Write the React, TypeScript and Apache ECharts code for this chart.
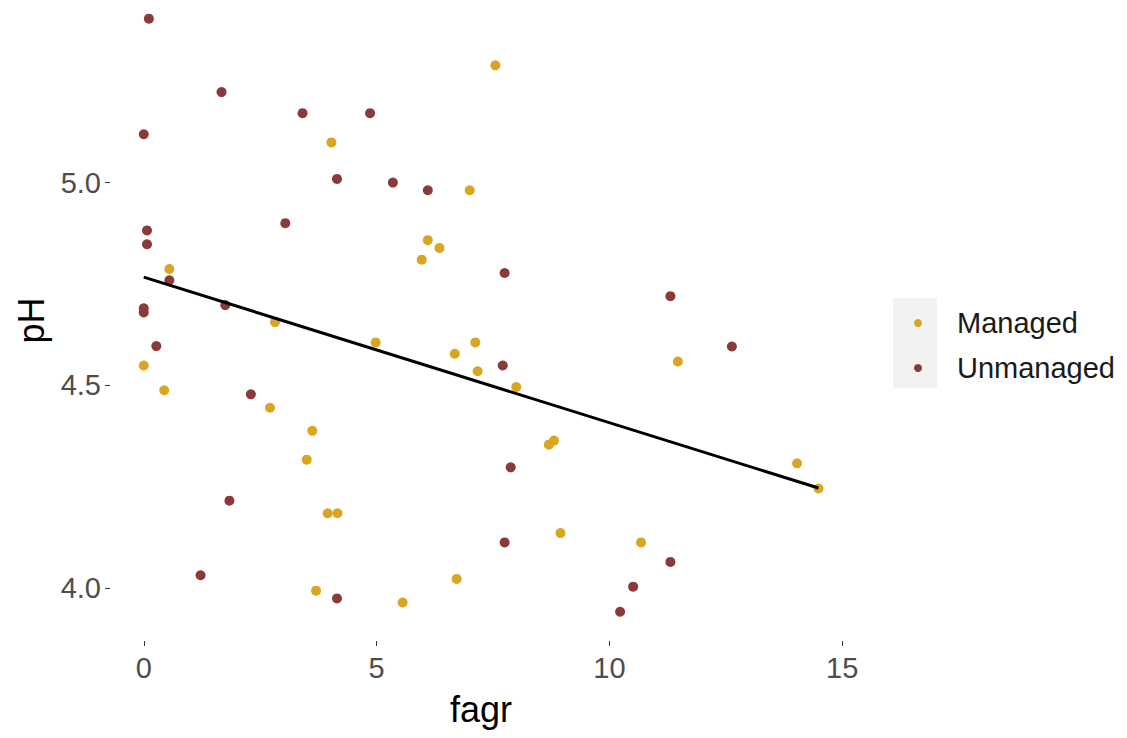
import React, { useEffect, useRef } from "react";
import * as echarts from "echarts";

// Managed sites (fagr, pH)
const managedFagr = [0.55, 0, 0.44, 2.71, 2.82, 4.03, 7.0, 6.10, 6.35, 5.97, 4.98, 6.68, 7.12, 7.17, 3.62, 3.50, 3.95, 4.16, 3.70, 5.56, 6.72, 7.55, 8.0, 8.70, 8.81, 8.95, 10.68, 11.47, 14.03, 14.49];
const managedPH = [4.787, 4.549, 4.488, 4.445, 4.656, 5.099, 4.981, 4.858, 4.839, 4.810, 4.606, 4.578, 4.606, 4.535, 4.388, 4.317, 4.185, 4.185, 3.994, 3.965, 4.023, 5.289, 4.496, 4.354, 4.364, 4.136, 4.113, 4.559, 4.308, 4.246];

// Unmanaged sites (fagr, pH)
const unmanagedFagr = [0.11, 1.67, 0, 3.04, 0.07, 0.07, 0.55, 1.75, 0, 0, 0.27, 2.30, 1.84, 1.22, 3.41, 4.86, 4.15, 5.35, 6.10, 4.15, 7.75, 7.71, 7.88, 7.75, 10.51, 10.23, 11.31, 12.63, 11.31];
const unmanagedPH = [5.404, 5.223, 5.119, 4.90, 4.882, 4.848, 4.759, 4.698, 4.69, 4.68, 4.597, 4.478, 4.216, 4.032, 5.171, 5.171, 5.009, 5.0, 4.981, 3.975, 4.777, 4.549, 4.298, 4.113, 4.004, 3.942, 4.72, 4.596, 4.065];

// Fitted line
const fitFagr = [0, 14.49];
const fitPH = [4.767, 4.247];

const xTicks = [0, 5, 10, 15];
const yTicks = [4.0, 4.5, 5.0];
const seriesNames = ["Managed", "Unmanaged"];

const FONT = "Liberation Sans, Arial, sans-serif";

export default function App() {
  const ref = useRef<HTMLDivElement>(null);
  useEffect(() => {
    if (!ref.current) return;
    const chart = echarts.init(ref.current, undefined, { renderer: "svg" });
    const zip = (xs: number[], ys: number[]) => xs.map((x, i) => [x, ys[i]]);
    chart.setOption({
      animation: false,
      backgroundColor: "#ffffff",
      textStyle: { fontFamily: FONT },
      grid: { left: 110, right: 275, top: 0, bottom: 97, containLabel: false },
      xAxis: {
        type: "value",
        min: -0.725,
        max: 15.21,
        name: "fagr",
        nameLocation: "middle",
        nameGap: 50,
        nameTextStyle: { color: "#000", fontSize: 36, fontFamily: FONT },
        axisLine: { show: false, onZero: false },
        axisTick: { show: true, length: 5, customValues: xTicks, lineStyle: { color: "#333", width: 1 } },
        axisLabel: { customValues: xTicks, color: "#4D4D4D", fontSize: 29, margin: 12, fontFamily: FONT },
        splitLine: { show: false },
      },
      yAxis: {
        type: "value",
        min: 3.87,
        max: 5.45,
        name: "pH",
        nameLocation: "middle",
        nameGap: 60,
        nameRotate: 90,
        nameTextStyle: { color: "#000", fontSize: 36, fontFamily: FONT },
        axisLine: { show: false, onZero: false },
        axisTick: { show: true, length: 5, customValues: yTicks, lineStyle: { color: "#333", width: 1 } },
        axisLabel: {
          customValues: yTicks,
          color: "#4D4D4D",
          fontSize: 29,
          margin: 9,
          fontFamily: FONT,
          formatter: (v: number) => v.toFixed(1),
        },
        splitLine: { show: false },
      },
      graphic: [
        {
          type: "rect",
          shape: { x: 893, y: 298, width: 44, height: 90 },
          style: { fill: "#F2F2F2" },
          z: 0,
          silent: true,
        },
      ],
      legend: {
        orient: "vertical",
        left: 909,
        top: 300,
        itemWidth: 8,
        itemHeight: 8,
        itemGap: 9,
        icon: "circle",
        data: seriesNames,
        formatter: "{pad| }{name}",
        textStyle: {
          color: "#1A1A1A",
          fontSize: 29,
          lineHeight: 36,
          fontFamily: FONT,
          rich: { pad: { width: 30, fontSize: 29, lineHeight: 36 } },
        },
      },
      series: [
        {
          name: seriesNames[0],
          type: "scatter",
          data: zip(managedFagr, managedPH),
          symbolSize: 10,
          itemStyle: { color: "#DAA520", opacity: 1 },
          z: 2,
        },
        {
          name: seriesNames[1],
          type: "scatter",
          data: zip(unmanagedFagr, unmanagedPH),
          symbolSize: 10,
          itemStyle: { color: "#8B3A3A", opacity: 1 },
          z: 2,
        },
        {
          type: "line",
          data: zip(fitFagr, fitPH),
          showSymbol: false,
          symbol: "none",
          lineStyle: { color: "#000", width: 3 },
          z: 3,
          silent: true,
        },
      ],
    });
    return () => chart.dispose();
  }, []);
  return (
    <div
      ref={ref}
      style={{ position: "fixed", left: 0, top: 0, width: 1127, height: 738, background: "#fff" }}
    />
  );
}
